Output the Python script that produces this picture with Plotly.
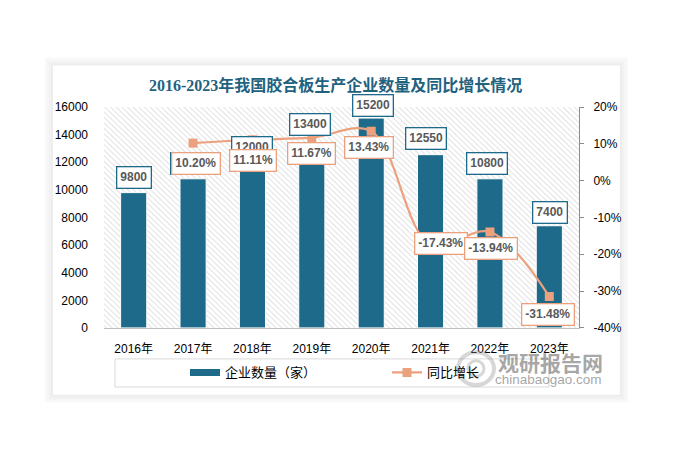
import base64
import plotly.graph_objects as go

# ---------------- data ----------------
years = ["2016年", "2017年", "2018年", "2019年", "2020年", "2021年", "2022年", "2023年"]
companies = [9800, 10800, 12000, 13400, 15200, 12550, 10800, 7400]
growth_years = ["2017年", "2018年", "2019年", "2020年", "2021年", "2022年", "2023年"]
growth = [10.20, 11.11, 11.67, 13.43, -17.43, -13.94, -31.48]
left_ticks = [0, 2000, 4000, 6000, 8000, 10000, 12000, 14000, 16000]
right_ticks = [-40, -30, -20, -10, 0, 10, 20]
right_tick_text = ["-40%", "-30%", "-20%", "-10%", "0%", "10%", "20%"]

title_text = "2016-2023年我国胶合板生产企业数量及同比增长情况"
bar_name = "企业数量（家）"
line_name = "同比增长"

# ---------------- style ----------------
OFF = 8                      # page body margin of the html output
W, H = 677 - OFF, 456 - OFF
BAR_C = "#1D6A8A"
LINE_C = "#EBA07E"
LABEL_C = "#595959"
FONT = "Liberation Sans, Noto Sans CJK SC, sans-serif"

px0, px1 = 104, 579   # plot area in window pixels
py0, py1 = 103, 331


def fx(p):
    return (p - OFF) / W


def fy(p):
    return 1 - (p - OFF) / H


# label offsets (pixels)
bar_lab_dx = [0, -2, 0, -2, 2, -5, -3, 1]
bar_lab_dy = [15, 15, 15, 18, 13, 16, 15, 13]
line_lab_dx = [3, 1, 0, -2, 10, 1, -1]
line_lab_dy = [-20, -21, -16, -16, 1, -17, -18]

fig = go.Figure()

fig.add_trace(go.Bar(
    x=years, y=companies, name=bar_name,
    marker=dict(color=BAR_C, line=dict(color="white", width=1)),
    width=0.44, xaxis="x", yaxis="y", showlegend=False))

# legend proxy for the bars (flat swatch)
fig.add_trace(go.Scatter(
    x=[None], y=[None], mode="lines", name=bar_name,
    line=dict(color=BAR_C, width=7), xaxis="x", yaxis="y"))

fig.add_trace(go.Scatter(
    x=growth_years, y=growth, name=line_name, mode="lines+markers",
    line=dict(color=LINE_C, width=2.2, shape="spline", smoothing=1),
    marker=dict(symbol="square", size=9, color=LINE_C),
    xaxis="x", yaxis="y2"))

annotations = []
for i, (yr, v) in enumerate(zip(years, companies)):
    annotations.append(dict(
        x=yr, y=v, xref="x", yref="y", text=f"<b>{v}</b>", showarrow=False,
        xanchor="center", yanchor="middle",
        xshift=bar_lab_dx[i], yshift=bar_lab_dy[i],
        font=dict(size=12, color=LABEL_C, family=FONT),
        bgcolor="white", bordercolor=BAR_C, borderwidth=1.3, borderpad=3))
for i, (yr, v) in enumerate(zip(growth_years, growth)):
    annotations.append(dict(
        x=yr, y=v, xref="x", yref="y2", text=f"<b>{v:.2f}%</b>", showarrow=False,
        xanchor="center", yanchor="middle",
        xshift=line_lab_dx[i], yshift=line_lab_dy[i],
        font=dict(size=12, color=LABEL_C, family=FONT),
        bgcolor="white", bordercolor=LINE_C, borderwidth=1.3, borderpad=3))

# title
annotations.append(dict(
    x=fx(335), y=fy(80), xref="paper", yref="paper", showarrow=False,
    text=f"<b>{title_text}</b>", xanchor="center", yanchor="middle",
    font=dict(size=16, color="#1F6280", family="Liberation Serif, Noto Sans CJK SC, serif")))

# watermark
annotations.append(dict(
    x=fx(550), y=fy(366), xref="paper", yref="paper", showarrow=False,
    xanchor="center", yanchor="middle",
    text="<b>观研报告网</b>", font=dict(size=21, color="rgba(115,115,115,0.65)", family="Noto Sans CJK SC")))
annotations.append(dict(
    x=fx(548), y=fy(384), xref="paper", yref="paper", showarrow=False,
    xanchor="center", yanchor="middle",
    text="chinabaogao.com", font=dict(size=13.5, color="rgba(115,115,115,0.65)", family="Liberation Sans")))

shapes = []
# card shadow (outline strokes only, card itself is the white paper)
for k, op in [(7, 0.025), (5, 0.035), (3, 0.05), (1, 0.07)]:
    shapes.append(dict(type="rect", xref="paper", yref="paper", layer="below",
                       x0=fx(53 - k), x1=fx(620 + k), y0=fy(400 + k), y1=fy(60 - k),
                       line=dict(width=2, color=f"rgba(0,0,0,{op})"), fillcolor="rgba(0,0,0,0)"))
# legend box
shapes.append(dict(type="rect", xref="paper", yref="paper", layer="below",
                   x0=fx(115), x1=fx(549), y0=fy(392), y1=fy(363),
                   line=dict(width=1, color="#D9D9D9"), fillcolor="rgba(0,0,0,0)"))
# watermark logo
shapes.append(dict(type="circle", xref="paper", yref="paper", layer="above",
                   x0=fx(458), x1=fx(494), y0=fy(390), y1=fy(356),
                   line=dict(width=4, color="rgba(140,140,140,0.35)")))
shapes.append(dict(type="circle", xref="paper", yref="paper", layer="above",
                   x0=fx(468), x1=fx(484), y0=fy(381), y1=fy(365),
                   line=dict(width=3, color="rgba(140,140,140,0.35)")))

# hatched plot-area background as an svg pattern image
pw, ph = px1 - px0, py1 - py0
svg = (f"<svg xmlns='http://www.w3.org/2000/svg' width='{pw}' height='{ph}' viewBox='0 0 {pw} {ph}' "
       f"preserveAspectRatio='none'><defs><pattern id='p' width='4' height='4' patternUnits='userSpaceOnUse' "
       f"patternTransform='rotate(-45)'><rect width='4' height='4' fill='white'/>"
       f"<line x1='0' y1='0' x2='0' y2='4' stroke='#CFCFCF' stroke-width='1.2'/></pattern></defs>"
       f"<rect width='{pw}' height='{ph}' fill='url(#p)'/></svg>")
src = "data:image/svg+xml;base64," + base64.b64encode(svg.encode()).decode()
images = [dict(source=src, xref="paper", yref="paper", x=fx(px0), y=fy(py0),
               sizex=pw / W, sizey=ph / H, sizing="stretch", layer="below",
               xanchor="left", yanchor="top")]

dom_x = [fx(px0), fx(px1)]
dom_y = [fy(py1), fy(py0)]

fig.update_layout(
    width=W, height=H, autosize=False,
    margin=dict(l=0, r=0, t=0, b=0),
    paper_bgcolor="white", plot_bgcolor="rgba(0,0,0,0)",
    font=dict(family=FONT, color="#000000", size=12),
    showlegend=True,
    legend=dict(orientation="h", x=fx(185), xanchor="left", y=fy(377), yanchor="middle",
                font=dict(size=13, color="#000000", family=FONT),
                entrywidth=157, bgcolor="rgba(0,0,0,0)", itemwidth=30),
    xaxis=dict(domain=dom_x, anchor="y", type="category", categoryorder="array",
               categoryarray=years, showline=True, linecolor="#BFBFBF", linewidth=1,
               ticks="", showgrid=False, tickfont=dict(size=12, color="#000000"),
               ticklabelstandoff=10, fixedrange=True),
    yaxis=dict(domain=dom_y, anchor="x", side="left", range=[0, 16000],
               tickvals=left_ticks, showgrid=False, showline=False, zeroline=False,
               ticks="", tickformat="d", tickfont=dict(size=12, color="#000000"),
               ticklabelstandoff=15, fixedrange=True),
    yaxis2=dict(overlaying="y", anchor="x", side="right", range=[-40, 20],
                tickvals=right_ticks, ticktext=right_tick_text, showgrid=False, zeroline=False,
                showline=True, linecolor="#8C8C8C", linewidth=1,
                ticks="outside", ticklen=4, tickcolor="#8C8C8C",
                tickfont=dict(size=12, color="#000000"), ticklabelstandoff=7, fixedrange=True),
    annotations=annotations,
    shapes=shapes,
    images=images,
)

fig.write_html("out.html")
